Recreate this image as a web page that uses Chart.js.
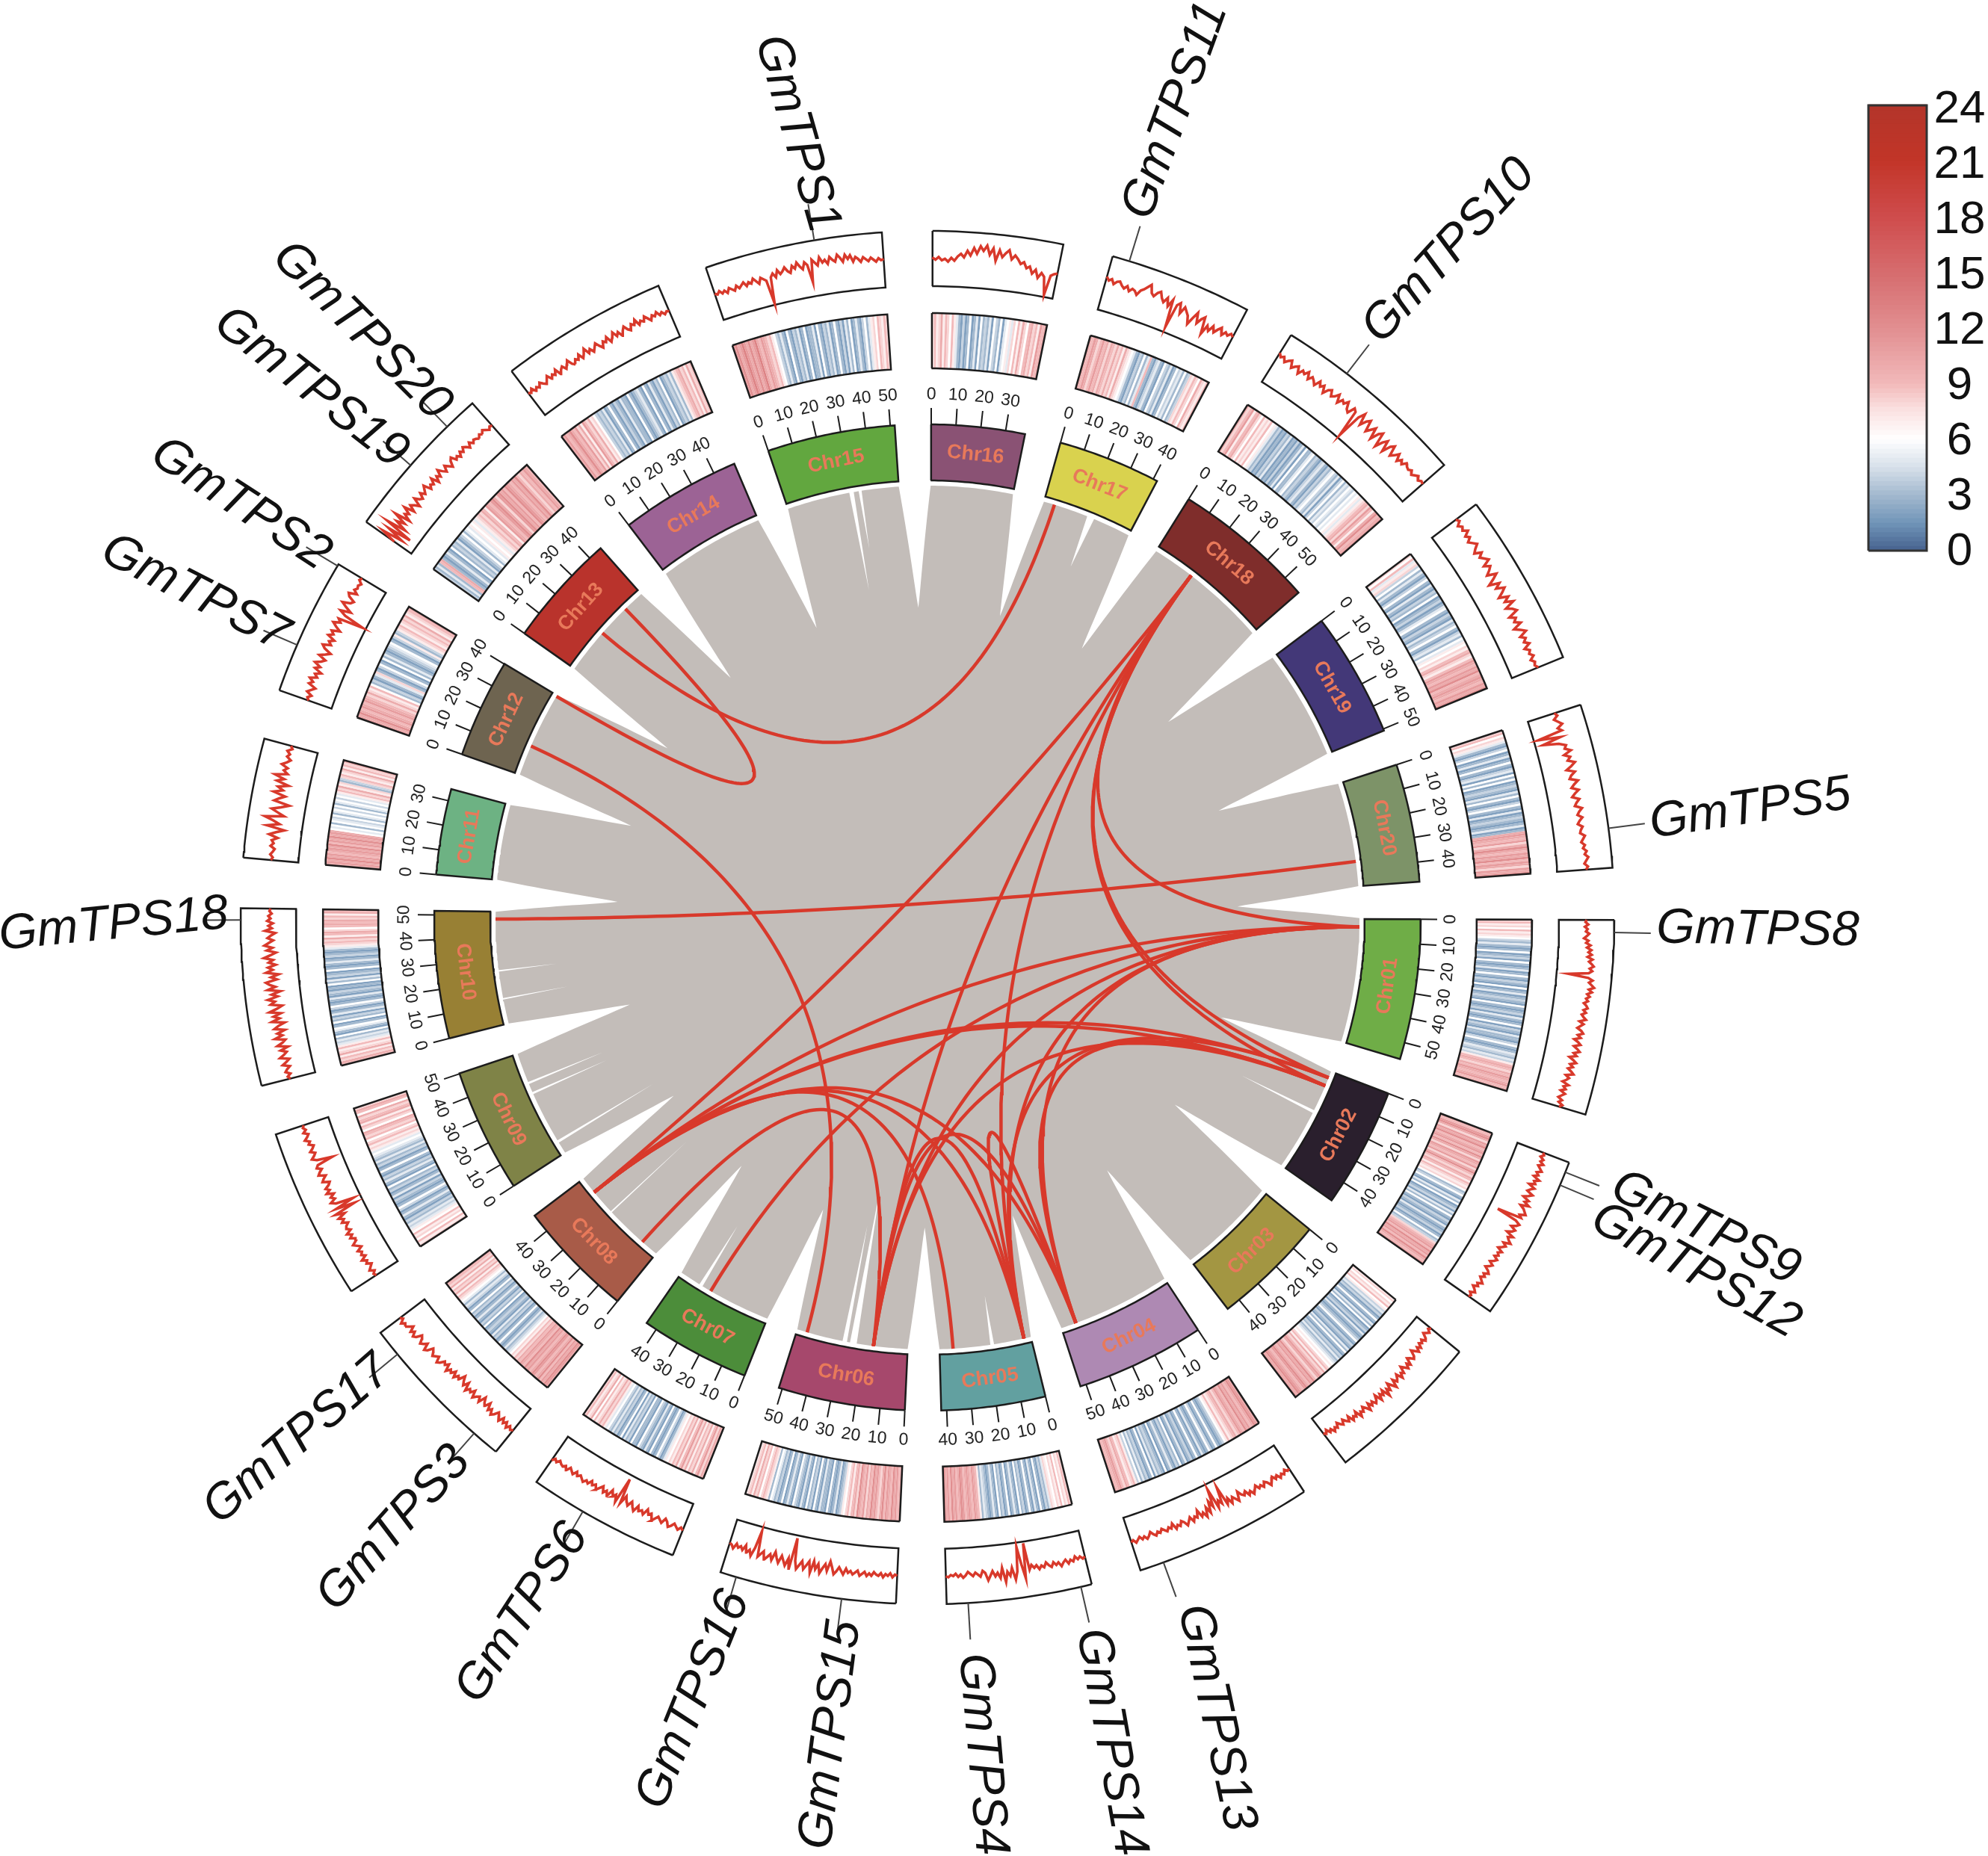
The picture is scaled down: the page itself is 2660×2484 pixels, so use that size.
<!DOCTYPE html>
<html>
<head>
<meta charset="utf-8">
<title>GmTPS circos</title>
<script src="https://cdn.jsdelivr.net/npm/chart.js@4/dist/chart.umd.js"></script>
<style>
html,body{margin:0;padding:0;background:#fff}
canvas{display:block}
</style>
</head>
<body>
<canvas id="circos" width="2660" height="2484"></canvas>
<script>
// chromosomes, Mb
var chromNames = ['Chr01','Chr02','Chr03','Chr04','Chr05','Chr06','Chr07','Chr08','Chr09','Chr10','Chr11','Chr12','Chr13','Chr14','Chr15','Chr16','Chr17','Chr18','Chr19','Chr20'];
var chromLengths = [56.8,48.6,45.8,52.4,42.2,51.4,44.6,47.8,50.2,51.6,34.8,40.1,45.9,49.0,51.8,37.9,41.7,58.0,50.7,47.9];
var chromColors = ['#6fad47','#2a1f2d','#a39642','#ae89b3','#62a0a0','#a6486c','#4c8d3a','#a85b48','#7f8347','#988034','#6db283','#6e6450','#b9332c','#9c6395','#62a73f','#8a5274','#d9d24e','#7f2d2b','#433878','#7d9368'];

// genes
var geneNames = ['GmTPS1','GmTPS2','GmTPS3','GmTPS4','GmTPS5','GmTPS6','GmTPS7','GmTPS8','GmTPS9','GmTPS10','GmTPS11','GmTPS12','GmTPS13','GmTPS14','GmTPS15','GmTPS16','GmTPS17','GmTPS18','GmTPS19','GmTPS20'];
var geneChrom = [15,12,8,5,20,7,12,1,2,18,17,2,4,5,6,6,8,10,13,13];
var genePos = [32.2,39.6,8.2,36,36.5,28.8,14,3.6,3,19.5,5,7,45.4,3.2,15.7,46.7,39.9,48.2,20.7,36];

// duplicated gene pairs, by GmTPS number
var linkFrom = [2,19,7,18,17,17,17,17,17,17,17,3,6,15,15,15,15,14,14,14,13,14,15,10,10,10,13];
var linkTo = [20,11,16,5,10,9,12,8,13,14,4,15,8,10,8,14,13,13,10,8,12,9,12,8,9,12,8];

// heatmap track, one array per chromosome, start to end
var heat01 = [8,9,7,8,6,9,7,8,7,6,4,3,5,3,2,3,6,2,3,4,2,6,3,2,3,5,2,3,6,3,2,4,3,2,6,2,3,5,2,3,4,3,2,6,3,2,3,4,2,5,3,2,3,6,2,4,3,2,5,3,3,2,4,6,3,2,3,5,4,3,5,4,7,9,10,9,8,10,9,11,10,9,10,11,9,10];
var heat02 = [10,9,11,12,10,8,11,10,12,9,10,11,9,12,10,8,11,10,9,11,8,10,12,9,8,10,9,7,9,8,7,8,6,3,4,6,3,2,5,3,6,2,3,4,2,5,3,6,3,2,4,3,2,5,3,2,3,4,2,3,6,3,4,8,9,10,11,9,12,10,11,9,12,10,9,11];
var heat03 = [7,8,6,8,7,9,6,7,4,5,3,4,2,3,6,3,2,5,3,6,2,3,4,2,5,3,2,3,4,6,3,2,4,3,2,5,3,6,3,2,4,3,5,3,4,5,6,7,6,8,9,7,10,8,9,11,10,8,9,12,10,11,9,10,12,11,9,10,11,12,10,11];
var heat04 = [10,11,12,10,9,11,10,12,9,10,11,9,8,10,9,8,7,9,7,6,4,3,2,3,6,3,2,4,6,3,2,3,5,2,3,6,3,2,4,3,2,5,3,2,6,3,4,2,3,5,3,2,6,2,3,4,3,5,2,6,3,2,4,3,5,3,6,4,7,9,8,7,9,10,8,9,11,10,9,10];
var heat05 = [8,9,7,8,6,9,7,8,6,7,8,5,3,4,2,3,6,2,3,5,2,3,6,3,2,4,3,6,2,3,5,3,2,6,3,2,4,3,6,2,3,5,3,2,3,4,5,3,7,9,10,11,9,10,11,10,9,11,12,10,9,11,10,12,9,11,10,12];
var heat06 = [10,9,11,10,12,9,10,11,9,12,10,8,9,11,10,12,9,10,8,11,9,10,12,8,10,9,7,9,8,6,7,4,3,2,5,3,2,3,6,2,3,3,5,2,3,6,2,4,3,6,2,3,5,2,3,4,6,2,3,5,3,2,6,3,2,4,3,5,6,3,7,8,9,8,6,9,8,10,7,9,8,7];
var heat07 = [9,10,8,11,9,7,10,8,9,7,10,8,11,9,7,10,8,9,7,8,6,7,5,3,2,4,6,3,2,3,6,2,3,5,2,3,4,6,2,3,3,6,2,4,3,5,2,6,3,2,4,3,5,3,4,6,5,7,9,8,10,8,7,9,6,10,8,7,9,8];
var heat08 = [10,11,12,10,11,9,12,10,9,11,12,10,9,11,10,12,9,10,11,9,10,8,9,7,8,6,5,4,3,5,3,2,3,6,3,2,4,3,5,2,3,4,3,2,6,3,4,2,3,5,3,2,4,3,6,3,2,4,5,3,5,6,7,8,9,7,10,8,9,7,10,8,9,10];
var heat09 = [8,7,9,6,8,7,9,6,7,5,4,5,3,4,2,3,5,3,2,4,6,3,2,3,4,2,5,3,2,4,3,6,2,3,5,3,4,2,3,6,3,2,4,3,5,3,4,5,6,5,7,8,7,9,8,6,9,8,9,10,6,8,9,7,10,9,8,10,6,9,10,8];
var heat10 = [9,10,8,9,7,10,8,7,9,7,5,4,5,3,6,2,3,5,6,3,2,6,3,4,2,5,3,2,4,6,3,2,3,5,2,3,4,2,3,2,6,3,5,2,4,3,2,6,3,2,3,5,3,2,4,3,2,3,5,7,8,9,8,10,7,9,10,8,6,9,10,9,10,8,9,7,10,9];
var heat11 = [10,11,10,12,10,11,9,10,11,10,12,9,11,10,12,10,11,10,6,5,6,3,6,5,4,6,3,5,6,4,6,3,5,6,4,6,5,7,9,8,10,7,8,3,4,8,9,7,8,10,7,9,8,10];
var heat12 = [11,10,12,10,9,11,10,9,11,10,9,8,10,8,7,9,6,3,4,2,3,5,8,3,2,4,6,3,2,6,3,5,3,2,3,4,5,6,3,2,4,7,3,4,7,8,9,7,8,9,8,10,7,8,9,10];
var heat13 = [4,3,5,3,9,10,3,2,3,5,3,2,6,3,4,3,5,2,3,4,6,3,5,6,5,7,6,7,5,7,8,9,8,10,9,7,11,10,9,11,12,10,8,11,12,10,11,9,12,11,10,9,11,10,12,9,8,10,9,11,10,9];
var heat14 = [10,11,9,10,12,10,9,11,8,10,7,11,9,8,10,7,8,6,4,3,4,3,5,2,3,6,3,2,4,3,2,5,3,3,2,6,3,2,3,4,5,3,2,6,3,2,5,3,2,4,3,6,2,3,4,3,5,3,7,8,9,10,8,9,7,10,8,9];
var heat15 = [11,12,10,11,13,11,10,12,10,11,13,10,9,11,10,9,8,9,7,6,4,3,5,3,2,6,3,2,4,3,5,2,3,6,2,3,3,5,2,6,3,2,4,3,5,2,3,6,3,2,4,2,5,3,6,2,3,5,3,2,4,6,3,5,7,8,6,9,8,7,9,8];
var heat16 = [8,9,7,8,10,7,9,8,6,9,7,5,3,2,4,2,3,6,2,3,5,2,6,3,4,3,5,2,6,4,3,6,2,5,6,7,5,8,6,9,7,10,8,6,9,10,8,9,7,11,9,10];
var heat17 = [10,9,11,10,8,9,11,9,10,8,10,9,8,10,8,9,7,10,8,7,6,5,3,2,4,3,6,3,5,9,3,2,4,5,3,2,6,4,3,5,2,3,6,4,5,3,6,3,4,8,7,9,8,6,10,8,7,9];
var heat18 = [10,8,9,11,7,9,10,8,6,9,7,8,7,9,6,7,5,3,4,2,3,2,4,3,5,2,3,2,4,2,3,5,2,6,3,3,5,6,3,4,3,2,4,5,3,2,4,3,5,6,4,3,5,2,4,6,3,5,4,6,5,4,6,5,6,7,5,7,8,9,10,8,11,9,7,10,12,9,10,11];
var heat19 = [8,6,9,5,7,8,4,6,3,5,3,2,4,6,3,2,5,3,2,4,3,6,2,3,4,2,3,5,6,3,2,4,3,2,5,3,4,6,3,2,4,5,3,6,5,7,6,8,7,9,10,8,7,9,11,10,9,11,10,12,9,10,11,10,9,11,10,12];
var heat20 = [8,9,6,8,7,5,3,2,4,6,2,3,5,2,3,6,3,2,4,5,2,6,3,6,2,3,4,3,2,5,3,6,3,2,4,6,3,2,5,2,3,4,3,2,3,5,2,3,10,11,10,9,11,8,10,12,10,9,11,10,12,9,11,10,8,11,10,12];
var heatTracks = [heat01,heat02,heat03,heat04,heat05,heat06,heat07,heat08,heat09,heat10,heat11,heat12,heat13,heat14,heat15,heat16,heat17,heat18,heat19,heat20];

// line track, 0 = inner edge of the box, 100 = outer edge
var line01 = [50,48,53,47,52,49,55,51,46,54,50,58,52,60,55,61,54,63,57,62,66,59,64,58,22,58,66,60,65,70,61,67,59,64,58,62,55,60,63,56,61,54,58,63,52,60,55,50,58,62,53,59,48,56,61,50,57,62,52,58,46,54,60,50,56,48,55,60,47,54,50,44,56,48,53,45,54,49,44,52,47,55,50];
var line02 = [50,53,48,55,51,58,50,55,60,52,57,50,62,54,58,48,60,54,50,62,56,48,60,54,64,50,58,62,66,56,61,16,55,64,60,52,62,58,50,64,56,60,66,54,61,56,50,60,54,58,52,60,56,50,58,54,48,56,60,52,57,50,55,60,52,56,48,54,58,50,55,52];
var line03 = [34,30,36,32,28,36,40,33,38,34,42,36,44,38,32,42,46,40,36,48,42,50,44,38,50,46,54,42,48,52,44,58,50,42,54,48,60,44,52,46,56,42,50,54,46,52,44,56,48,42,50,46,54,40,48,44,50,38,46,42,36,44,40,34,42,38,44,36,40,32,38,34];
var line04 = [50,52,47,54,50,56,48,53,46,52,58,50,46,54,48,52,44,50,56,48,54,44,50,46,38,54,48,42,52,40,50,14,44,36,48,10,42,30,50,38,54,44,50,36,48,44,52,42,48,54,46,42,50,46,52,40,48,44,50,46,42,48,44,50,46,40,46,50,44,48,42,46,50,44,47];
var line05 = [48,51,46,50,44,52,48,54,46,50,56,48,52,46,54,50,44,52,48,54,46,50,44,52,3,66,40,8,52,66,44,58,50,68,42,60,50,56,46,54,62,48,44,54,50,46,52,48,44,50,54,48,52,46,50,48,52,50];
var line06 = [50,48,53,46,51,48,54,47,52,50,46,53,49,54,47,51,55,46,50,54,48,52,45,56,50,44,52,58,46,36,54,42,50,60,44,54,40,62,42,50,58,44,52,60,46,5,62,44,58,50,42,56,48,38,54,44,50,56,42,48,54,8,40,56,46,52,40,50,44,48,42,52,46,44];
var line07 = [52,48,54,50,46,52,56,48,44,54,50,46,52,58,46,50,42,54,48,52,44,56,50,42,52,46,38,54,8,56,44,50,40,54,46,52,42,48,54,46,50,44,52,48,54,50,46,50,44,52,48,44,52,46,50,48,44,50,46,52];
var line08 = [50,53,48,55,46,52,44,54,48,42,50,55,46,52,40,50,46,38,52,44,48,54,42,50,46,54,40,50,44,36,48,44,52,42,50,46,54,42,48,44,52,56,46,50,54,48,44,54,58,46,52,56,48,44,54,58,50,56,46,52,58,54,60,52,56];
var line09 = [46,49,44,52,47,42,50,46,54,44,50,46,52,42,48,54,46,44,52,46,54,44,50,48,42,52,46,54,40,56,16,50,14,46,54,44,50,42,54,46,52,44,40,52,48,42,54,50,44,52,48,18,46,54,48,44,52,46,42,50,46,54,48,44,52,46,50,47];
var line10 = [46,50,44,52,48,42,54,46,40,56,48,42,52,38,56,46,40,58,44,52,38,56,48,36,58,44,54,40,60,46,36,56,48,60,42,52,36,58,44,54,60,40,50,36,58,46,54,40,52,44,60,48,38,54,44,58,50,42,52,46,38,56,44,50,42,52,46,50,44,48,46];
var line11 = [50,47,52,48,45,53,48,52,42,58,46,32,64,42,54,70,36,48,60,44,30,58,50,40,62,46,56,38,60,48,66,44,52,46,58,50,44,52,48,54,46,50];
var line12 = [44,48,42,52,46,40,54,48,56,44,50,40,54,46,58,48,42,56,46,38,52,58,44,50,42,56,48,54,40,50,58,46,52,6,44,56,38,50,60,46,42,54,58,44,52,48,50,46,53,50];
var line13 = [38,66,28,60,16,70,34,56,42,66,38,52,46,60,42,54,48,40,56,48,44,54,46,52,58,44,50,46,56,42,52,46,58,50,44,54,48,42,52,56,46,50,44,52,47,54,50,44,52,46,50,48,44,50,46,52,48,44,48,46];
var line14 = [50,47,53,45,50,46,53,48,44,50,55,46,52,48,56,44,50,54,46,52,58,48,44,52,48,56,46,52,60,48,54,46,52,58,50,44,54,50,58,46,52,60,50,56,46,54,60,52,48,58,54,62,50,56,52,60,54,48,56,52,58,50,54,48,52,50];
var line15 = [50,47,52,46,50,44,52,48,44,52,46,50,54,46,52,48,56,50,44,54,50,46,3,50,56,48,60,52,56,62,54,50,62,56,66,58,52,64,58,26,66,60,54,68,58,62,54,66,60,56,68,62,54,66,58,64,52,60,56,50,58,54,50,56,52,48,54,50,52];
var line16 = [52,48,53,47,50,45,52,47,55,60,54,66,58,72,62,76,68,78,62,74,52,72,60,68,74,58,66,60,52,56,46,50,38,46,32,42,36,4,40,44,46];
var line17 = [62,56,60,52,58,60,54,50,56,48,54,52,46,56,60,66,72,58,54,62,66,56,50,60,46,60,10,54,60,42,56,50,44,30,44,56,38,48,54,24,42,34,46,36,44,50,38,46,42,48,44];
var line18 = [62,56,60,52,58,62,50,56,60,48,58,54,62,50,58,54,48,60,52,58,46,56,60,50,54,62,48,58,54,62,50,46,60,56,6,52,64,44,56,62,42,50,58,38,54,60,34,48,56,36,52,58,40,46,54,42,50,44,52,48,46,50,44,48,52,46,50,48];
var line19 = [54,58,50,56,52,60,50,56,48,54,60,52,46,58,50,56,62,48,58,52,44,60,50,38,56,46,60,52,42,58,48,62,44,54,60,42,52,46,56,40,50,58,44,52,46,54,42,50,46,52,44,50,47,52];
var line20 = [50,54,46,52,58,48,54,8,48,14,42,54,50,60,46,56,50,62,54,44,58,50,46,60,52,46,58,50,44,56,50,46,58,52,48,56,50,46,54,50,48,56,52,48,54,50,56,52,58,54,50,56,52];
var lineTracks = [line01,line02,line03,line04,line05,line06,line07,line08,line09,line10,line11,line12,line13,line14,line15,line16,line17,line18,line19,line20];

// gaps in the ribbons that are not between chromosomes: chromosome, Mb, inner radius, width in degrees
var slitChrom = [17,15,15,10,10,9,9,6,6,7,5,2,8,9];
var slitPos = [22.6,30,34,24.5,11.5,36,31,25,29,34,18,20,28,6];
var slitInner = [507,445,500,500,490,470,470,367,420,485,512,470,440,430];
var slitWidth = [0.5,0.3,0.2,0.1,0.1,0.14,0.14,0.45,0.3,0.25,0.25,0.2,0.1,0.18];

// colour key
var keyTicks = [0,3,6,9,12,15,18,21,24];
var keyStops = [0,1.5,3,4.5,6,7.5,9,12,15,18,21,24];
var keyColors = ['#46628f','#7195b8','#a3b9cf','#d7e0ea','#ffffff','#fbe3e3','#f2b9ba','#e18e90','#d66c6e','#cf4c4c','#c23528','#b3352a'];

// layout
var CX = 1241, CY = 1228;
var DEG_PER_MB = 0.29, GAP = 4.23, FIRST = 90.2;
var R_RIBBON = 578, R_TIP = 415;
var R_BAND0 = 585, R_BAND1 = 660, R_TICK = 682, R_TICKTXT = 697;
var R_HEAT0 = 735, R_HEAT1 = 809, R_LINE0 = 845, R_LINE1 = 919, R_LEAD = 968;

// label centre x, y and rotation, same order as geneNames
var labelX = [1066,322,527,1314,2342,699,261,2352,2282,1939,1573,2269,1627,1486,1112,928,398,152,416,484];
var labelY = [179,675,2046,2348,1083,2159,794,1245,1644,336,148,1701,2299,2332,2322,2275,1927,1238,519,443];
var labelRot = [74,33,-48,85,-8.5,-57,27,0.8,26,-47.5,-70,29,78,80,-82.6,-68,-41,-5.5,38,45];

var chromStart = [];
var a0 = FIRST;
chromLengths.forEach(function(len){
  chromStart.push(a0);
  a0 += len * DEG_PER_MB + GAP;
});

function polar(theta, r){
  var t = theta * Math.PI / 180;
  return {x: CX + r * Math.sin(t), y: CY - r * Math.cos(t)};
}
function mbAngle(chrom, mb){
  return chromStart[chrom] + mb * DEG_PER_MB;
}
function arc(t0, t1, r){
  var pts = [], n = Math.max(2, Math.ceil(Math.abs(t1 - t0) / 0.5));
  for (var i = 0; i <= n; i++) pts.push(polar(t0 + (t1 - t0) * i / n, r));
  return pts;
}
function sector(t0, t1, r0, r1){
  var pts = arc(t0, t1, r1).concat(arc(t1, t0, r0));
  pts.push(pts[0]);
  return pts;
}
function textRot(theta){
  theta = (theta + 360) % 360;
  if (theta > 90 && theta < 270) return theta - 180;
  return theta > 270 ? theta - 360 : theta;
}
function hex(c){
  return [parseInt(c.substr(1,2),16), parseInt(c.substr(3,2),16), parseInt(c.substr(5,2),16)];
}
function heatColor(v){
  for (var i = 1; i < keyStops.length; i++) {
    if (v <= keyStops[i]) {
      var f = (v - keyStops[i-1]) / (keyStops[i] - keyStops[i-1]);
      var a = hex(keyColors[i-1]), b = hex(keyColors[i]);
      return 'rgb(' + [0,1,2].map(function(k){ return Math.round(a[k] + (b[k]-a[k]) * f); }).join(',') + ')';
    }
  }
  return keyColors[keyColors.length-1];
}

var datasets = [];
function shape(pts, fill, stroke, lw){
  datasets.push({
    data: pts, showLine: true, fill: fill ? 'shape' : false,
    backgroundColor: fill || 'transparent',
    borderColor: stroke || 'transparent',
    borderWidth: lw || 0,
    pointRadius: 0, clip: false
  });
}

// grey ribbon disk, with a tapered white notch in every gap
var disk = [];
chromLengths.forEach(function(len, i){
  var s = chromStart[i], e = s + len * DEG_PER_MB;
  disk = disk.concat(arc(s, e, R_RIBBON));
  for (var k = 1; k <= 16; k++) {
    var t = k / 16;
    var half = GAP / 2 * Math.pow(1 - t, 0.85);
    disk.push(polar(e + GAP / 2 - half, R_RIBBON - (R_RIBBON - R_TIP) * t));
  }
  for (k = 15; k >= 0; k--) {
    t = k / 16;
    half = GAP / 2 * Math.pow(1 - t, 0.85);
    disk.push(polar(e + GAP / 2 + half, R_RIBBON - (R_RIBBON - R_TIP) * t));
  }
});
disk.push(disk[0]);
shape(disk, '#c3bdb9');

// thin white slits in the ribbons
slitChrom.forEach(function(c, i){
  var th = mbAngle(c - 1, slitPos[i]);
  shape([polar(th - slitWidth[i], R_RIBBON + 1), polar(th + slitWidth[i], R_RIBBON + 1), polar(th, slitInner[i]), polar(th - slitWidth[i], R_RIBBON + 1)], '#ffffff');
});

// links, quadratic curves pulled nearly to the centre
linkFrom.forEach(function(g, i){
  var h = linkTo[i] - 1; g = g - 1;
  var ta = mbAngle(geneChrom[g] - 1, genePos[g]), tb = mbAngle(geneChrom[h] - 1, genePos[h]);
  var pa = polar(ta, R_RIBBON), pb = polar(tb, R_RIBBON);
  var mid = {x: (pa.x + pb.x) / 2, y: (pa.y + pb.y) / 2};
  var ctl = {x: CX + (mid.x - CX) * 0.04, y: CY + (mid.y - CY) * 0.04};
  var pts = [];
  for (var k = 0; k <= 80; k++) {
    var t = k / 80, u = 1 - t;
    pts.push({x: u*u*pa.x + 2*u*t*ctl.x + t*t*pb.x, y: u*u*pa.y + 2*u*t*ctl.y + t*t*pb.y});
  }
  shape(pts, null, '#d8392b', 4.5);
});

chromLengths.forEach(function(len, i){
  var s = chromStart[i], e = s + len * DEG_PER_MB;
  // ideogram band
  shape(sector(s, e, R_BAND0, R_BAND1), chromColors[i], '#1c1c1c', 2.5);
  // ticks
  for (var mb = 0; mb <= len; mb += 10) {
    var th = mbAngle(i, mb);
    shape([polar(th, R_BAND1), polar(th, R_TICK)], null, '#1c1c1c', 2);
  }
  // heat cells
  var hv = heatTracks[i], step = (e - s) / hv.length;
  hv.forEach(function(v, k){
    var t0 = s + k * step, t1 = t0 + step * 1.02;
    if (k === hv.length - 1) t1 = e;
    shape(sector(t0, t1, R_HEAT0, R_HEAT1), heatColor(v));
  });
  shape(sector(s, e, R_HEAT0, R_HEAT1), null, '#1c1c1c', 2.5);
  // line box
  shape(sector(s, e, R_LINE0, R_LINE1), null, '#1c1c1c', 2.5);
  var lv = lineTracks[i];
  var pts = lv.map(function(v, k){
    return polar(s + (e - s) * k / (lv.length - 1), R_LINE0 + (R_LINE1 - R_LINE0) * v / 100);
  });
  shape(pts, null, '#d8392b', 3.5);
});

// leader lines
geneNames.forEach(function(n, g){
  var th = mbAngle(geneChrom[g] - 1, genePos[g]);
  shape([polar(th, R_LINE1), polar(th, R_LEAD)], null, '#444444', 2);
});

// colour key cells
var KEY_X0 = 2500, KEY_X1 = 2578, KEY_Y0 = 737, KEY_Y1 = 141;
function keyY(v){ return KEY_Y0 + (KEY_Y1 - KEY_Y0) * v / 24; }
for (var v = 0; v < 24; v += 0.25) {
  shape([{x:KEY_X0,y:keyY(v)},{x:KEY_X1,y:keyY(v)},{x:KEY_X1,y:keyY(v+0.3)},{x:KEY_X0,y:keyY(v+0.3)},{x:KEY_X0,y:keyY(v)}], heatColor(v + 0.125));
}
shape([{x:KEY_X0,y:KEY_Y0},{x:KEY_X1,y:KEY_Y0},{x:KEY_X1,y:KEY_Y1},{x:KEY_X0,y:KEY_Y1},{x:KEY_X0,y:KEY_Y0}], null, '#333333', 3);

// all the text goes on top
var textPlugin = {
  id: 'circosText',
  afterDatasetsDraw: function(chart){
    var ctx = chart.ctx, sx = chart.scales.x, sy = chart.scales.y;
    function put(txt, x, y, rot, font, color){
      ctx.save();
      ctx.translate(sx.getPixelForValue(x), sy.getPixelForValue(y));
      ctx.rotate(rot * Math.PI / 180);
      ctx.font = font;
      ctx.fillStyle = color;
      ctx.textAlign = 'center';
      ctx.textBaseline = 'middle';
      ctx.fillText(txt, 0, 0);
      ctx.restore();
    }
    chromNames.forEach(function(name, i){
      var len = chromLengths[i];
      var mid = chromStart[i] + len * DEG_PER_MB / 2;
      var p = polar(mid, (R_BAND0 + R_BAND1) / 2);
      put(name, p.x, p.y, textRot(mid), 'bold 27px "Liberation Sans", Arial, sans-serif', '#e8795a');
      for (var mb = 0; mb <= len; mb += 10) {
        var th = mbAngle(i, mb), q = polar(th, R_TICKTXT + 3);
        put(String(mb), q.x, q.y, textRot(th), '23px "Liberation Sans", Arial, sans-serif', '#222222');
      }
    });
    geneNames.forEach(function(n, g){
      put(n, labelX[g], labelY[g], labelRot[g], 'italic 66px "Liberation Sans", Arial, sans-serif', '#111111');
    });
    keyTicks.forEach(function(t){
      put(String(t), 2622, keyY(t) + 2 + t / 6, 0, '62px "Liberation Sans", Arial, sans-serif', '#111111');
    });
  }
};

// chart draws back to front when the list is reversed
new Chart(document.getElementById('circos').getContext('2d'), {
  type: 'scatter',
  data: {datasets: datasets.reverse()},
  plugins: [textPlugin],
  options: {
    responsive: false,
    animation: false,
    events: [],
    layout: {padding: 0},
    elements: {line: {tension: 0}},
    plugins: {legend: {display: false}, tooltip: {enabled: false}, title: {display: false}},
    scales: {
      x: {type: 'linear', display: false, min: 0, max: 2660},
      y: {type: 'linear', display: false, min: 0, max: 2484, reverse: true}
    }
  }
});
</script>
</body>
</html>
